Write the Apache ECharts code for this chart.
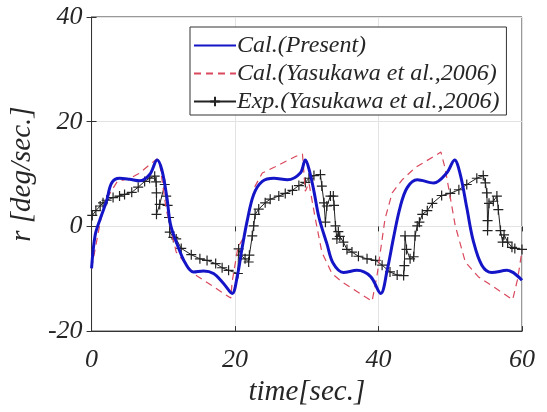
<!DOCTYPE html>
<html>
<head>
<meta charset="utf-8">
<script src="https://cdn.jsdelivr.net/npm/echarts@6/dist/echarts.min.js"></script>
<style>html,body{margin:0;padding:0;background:#fff;}#c{width:547px;height:412px;}</style>
</head>
<body>
<div id="c"></div>
<script>
// ---- data ----
const seriesNames = ['Cal.(Present)', 'Cal.(Yasukawa et al.,2006)', 'Exp.(Yasukawa et al.,2006)'];
const xTicks = [0, 20, 40, 60];
const yTicks = [-20, 0, 20, 40];

const presentT = [0, 0.5, 1.2, 2.1, 2.8, 3.9, 5.3, 6.7, 8.1, 9.15, 9.8, 10.5, 11, 11.9, 13.1, 14.2, 15.6, 17, 18.4, 19.6, 20.3, 21, 21.7, 22.6, 23.8, 25.4, 27.3, 29.1, 29.8, 30.3, 31, 31.7, 32.8, 33.7, 35.1, 37, 38.9, 40.3, 41.2, 42.1, 43, 44, 45.4, 47.7, 49.5, 50.6, 51.4, 52.3, 53.2, 54.4, 55.8, 57.9, 60];
const presentR = [-8, -1.7, 1.4, 4.9, 8.3, 9.2, 9, 8.7, 9.9, 12.7, 10.8, 5.5, 0.4, -3.3, -7.1, -8.7, -8.5, -9, -10.9, -12.8, -9.6, -4, 1.1, 6.1, 8.6, 9.2, 8.9, 10.2, 12.7, 11, 6.7, 1.7, -3.3, -7.1, -8.8, -8.4, -9.6, -12.8, -8.4, -2.1, 3.6, 7.4, 8.9, 8.3, 10.2, 12.7, 9.9, 3.6, -2.7, -7.4, -8.8, -8.4, -10.3];

const yasuT = [0, 1.25, 2.1, 3.6, 5.4, 6.6, 9.1, 9.5, 10.4, 11.8, 14.2, 19.4, 19.6, 20.4, 21.2, 22.8, 23.8, 25.6, 28.5, 29.4, 29.8, 30.3, 31.2, 32.1, 33.5, 34.9, 39.1, 39.8, 40.9, 41.9, 43.3, 45.1, 48.7, 49.3, 50.7, 52.1, 53.9, 58.7, 59.4, 60];
const yasuR = [-8, 1.1, 5.3, 8.6, 9.2, 10.1, 12.9, 12, 3.3, -4.9, -9, -13.7, -10.6, -4, -2.1, 7.7, 10.2, 11.4, 13.4, 13.8, 6.7, 8.3, 1.4, -4.9, -9, -10.6, -14.3, -9.3, 1.4, 6.4, 8.9, 11.2, 14.2, 11, 0.1, -6.8, -9.6, -14, -10, -4.6];

const expT = [0.1, 0.6, 1.2, 1.6, 2.1, 3.0, 3.9, 4.6, 5.6, 6.5, 7.4, 8.1, 8.8, 9.0, 9.05, 9.05, 9.5, 10.2, 10.4, 10.6, 10.8, 10.9, 11.4, 11.8, 12.5, 13.9, 15.1, 16.1, 17.3, 18.2, 19.1, 20.4, 20.5, 20.8, 21.4, 21.9, 22.0, 22.4, 22.6, 22.8, 23.3, 24.2, 24.9, 26.1, 27.0, 28.0, 28.9, 29.8, 30.3, 31.0, 31.9, 32.1, 32.4, 32.6, 32.8, 33.3, 33.7, 33.8, 34.0, 34.2, 34.4, 34.6, 35.1, 35.6, 36.3, 37.2, 38.4, 39.6, 40.5, 41.6, 42.6, 43.5, 43.6, 43.7, 43.9, 44.4, 44.9, 45.1, 45.4, 45.7, 46.1, 46.8, 47.5, 48.8, 50.0, 51.2, 52.3, 53.7, 54.6, 54.9, 55.1, 55.2, 55.2, 55.4, 56.0, 56.5, 56.7, 57.0, 57.3, 57.5, 58.0, 58.6, 59.0, 60.0];
const expR = [2.1, 3.0, 3.9, 4.5, 5.0, 5.5, 5.8, 6.1, 6.5, 7.5, 8.6, 9.2, 9.6, 8.5, 6.4, 2.3, 4.2, 8.0, 5.8, 4.0, 1.7, -1.1, -2.1, -2.4, -4.2, -5.4, -6.2, -6.5, -7.1, -7.9, -8.4, -9.0, -4.3, -5.5, -6.2, -6.8, -5.5, -1.8, 0.1, 2.3, 3.3, 4.5, 5.2, 5.8, 6.3, 6.9, 7.8, 8.4, 9.2, 9.7, 9.9, 7.7, 4.5, 0.8, 3.9, 5.8, 5.8, 4.0, 0.1, -2.4, -1.0, -1.9, -3.0, -4.4, -4.9, -5.7, -6.2, -6.5, -7.4, -8.7, -9.3, -9.4, -7.5, -1.8, -4.4, -6.2, -5.8, -1.8, 0.1, 0.8, 2.3, 3.0, 4.4, 5.9, 6.3, 7.0, 8.0, 9.2, 9.7, 8.3, 6.4, 1.1, -0.8, 4.4, 4.8, 5.8, 3.2, -0.8, -3.0, -1.6, -3.0, -4.0, -4.2, -4.4];

const zip = (a, b) => a.map((v, i) => [v, b[i]]);
const FONT = 'Liberation Serif';
const txt = { fontFamily: FONT, fontStyle: 'italic', color: '#262626' };
const hiddenSym = { color: 'rgba(0,0,0,0)', borderWidth: 0, borderColor: 'rgba(0,0,0,0)' };

const xMin = xTicks[0], xMax = xTicks[xTicks.length - 1];
const yMin = yTicks[0], yMax = yTicks[yTicks.length - 1];
const tickStyle = { show: true, inside: true, length: 5, lineStyle: { color: '#333' } };

const chart = echarts.init(document.getElementById('c'), null, { renderer: 'canvas' });
chart.setOption({
  animation: false,
  backgroundColor: '#fff',
  grid: { left: 91, right: 25, top: 17, bottom: 77, show: true, borderColor: '#333', borderWidth: 1, backgroundColor: 'transparent' },
  xAxis: [{
    type: 'value', min: xMin, max: xMax, interval: 20,
    name: 'time[sec.]', nameLocation: 'middle', nameGap: 46,
    nameTextStyle: Object.assign({ fontSize: 29 }, txt),
    axisLine: { show: true, onZero: false, lineStyle: { color: '#333', width: 1 } },
    axisTick: tickStyle,
    axisLabel: Object.assign({ fontSize: 26, margin: 16 }, txt),
    splitLine: { show: true, lineStyle: { color: '#e3e3e3', width: 1 } }
  }, {
    type: 'value', position: 'top', min: xMin, max: xMax, interval: 20,
    axisLine: { show: false }, axisTick: tickStyle, axisLabel: { show: false }, splitLine: { show: false }
  }],
  yAxis: [{
    type: 'value', min: yMin, max: yMax, interval: 20,
    name: 'r [deg/sec.]', nameLocation: 'middle', nameGap: 47, nameRotate: 90,
    nameTextStyle: Object.assign({ fontSize: 29 }, txt),
    axisLine: { show: true, onZero: false, lineStyle: { color: '#333', width: 1 } },
    axisTick: tickStyle,
    axisLabel: Object.assign({ fontSize: 26, margin: 9 }, txt),
    splitLine: { show: true, lineStyle: { color: '#e3e3e3', width: 1 } }
  }, {
    type: 'value', position: 'right', min: yMin, max: yMax, interval: 20,
    axisLine: { show: false }, axisTick: tickStyle, axisLabel: { show: false }, splitLine: { show: false }
  }],
  legend: {
    orient: 'vertical', left: 190, top: 27,
    backgroundColor: '#fff', borderColor: '#333', borderWidth: 1,
    padding: [6, 7, 1, 3], itemGap: 3, itemWidth: 42, itemHeight: 12,
    textStyle: Object.assign({ fontSize: 24, lineHeight: 25, padding: [0, 0, 0, -4] }, txt),
    data: [
      { name: seriesNames[0], itemStyle: hiddenSym },
      { name: seriesNames[1], itemStyle: hiddenSym },
      { name: seriesNames[2] }
    ]
  },
  series: [
    {
      name: seriesNames[2], type: 'line', data: zip(expT, expR), z: 2,
      symbol: 'path://M5,0L5,10M0,5L10,5', symbolSize: 10,
      itemStyle: { color: '#222', borderColor: '#222', borderWidth: 1.2 },
      lineStyle: { color: '#222', width: 1 }
    },
    {
      name: seriesNames[1], type: 'line', data: zip(yasuT, yasuR), z: 3,
      symbol: 'none', itemStyle: { color: '#d9485c' },
      lineStyle: { color: '#d9485c', width: 1.2, type: [7, 5] }
    },
    {
      name: seriesNames[0], type: 'line', data: zip(presentT, presentR), z: 4,
      symbol: 'none', smooth: 0.35, itemStyle: { color: '#1515c8' },
      lineStyle: { color: '#1515c8', width: 3 }
    }
  ]
});
</script>
</body>
</html>
